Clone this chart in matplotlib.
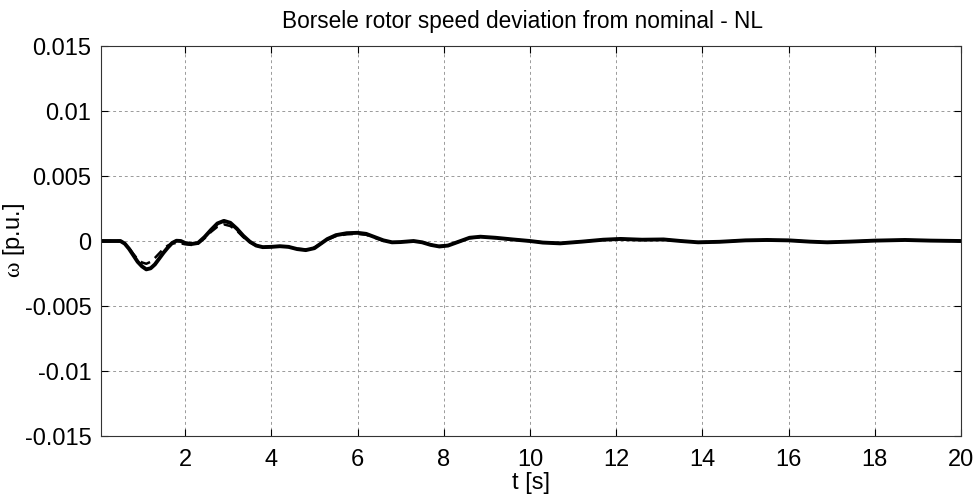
import numpy as np
import matplotlib
matplotlib.use("Agg")
import matplotlib.pyplot as plt

# time [s] and rotor speed deviation [1e-3 p.u.]
t_solid = [0.05, 0.3, 0.5, 0.6, 0.7, 0.8, 0.9, 1.0, 1.1, 1.2, 1.3, 1.4, 1.5, 1.6, 1.7,
           1.8, 1.9, 2.0, 2.15, 2.3, 2.45, 2.6, 2.75, 2.9, 3.05, 3.2, 3.35, 3.5, 3.65,
           3.8, 4.0, 4.2, 4.4, 4.6, 4.8, 5.0, 5.15, 5.3, 5.5, 5.75, 6.0, 6.2, 6.4, 6.6,
           6.8, 7.0, 7.3, 7.5, 7.7, 7.9, 8.1, 8.35, 8.6, 8.85, 9.2, 9.6, 10.0, 10.3,
           10.7, 11.2, 11.7, 12.1, 12.6, 13.1, 13.5, 13.9, 14.4, 15.0, 15.5, 16.0,
           16.5, 16.9, 17.4, 18.0, 18.7, 19.3, 20.0]
w_solid = [0, 0, 0, -0.2, -0.6, -1.1, -1.6, -1.95, -2.18, -2.1, -1.8, -1.35, -0.9, -0.5,
           -0.15, 0.02, 0.0, -0.15, -0.23, -0.15, 0.3, 0.85, 1.35, 1.55, 1.4, 0.95, 0.4,
           -0.05, -0.35, -0.47, -0.45, -0.4, -0.45, -0.62, -0.7, -0.55, -0.2, 0.15, 0.45,
           0.6, 0.63, 0.55, 0.3, 0.05, -0.1, -0.08, 0.0, -0.1, -0.3, -0.42, -0.35, -0.05,
           0.25, 0.33, 0.25, 0.12, 0.0, -0.12, -0.18, -0.05, 0.1, 0.16, 0.1, 0.12, 0.0,
           -0.1, -0.06, 0.05, 0.08, 0.05, -0.05, -0.1, -0.05, 0.03, 0.08, 0.03, 0.0]

t_dash = [0.05, 0.5, 0.6, 0.7, 0.8, 0.9, 1.0, 1.1, 1.2, 1.3, 1.4, 1.5, 1.6, 1.7, 1.8,
          1.9, 2.0, 2.15, 2.3, 2.45, 2.6, 2.75, 2.9, 3.05, 3.2, 3.35, 3.5, 3.65, 3.8,
          4.0, 4.2, 4.4, 4.6, 4.8, 5.0, 5.15, 5.3, 5.5, 5.75, 6.0, 6.2, 6.4, 6.6, 6.8,
          7.0, 7.3, 7.5, 7.7, 7.9, 8.1, 8.35, 8.6, 8.85, 9.2, 9.6, 10.0, 10.3, 10.7,
          11.2, 11.7, 12.1, 12.6, 13.1, 13.5, 13.9, 14.4, 15.0, 15.5, 16.0, 16.5,
          16.9, 17.4, 18.0, 18.7, 19.3, 20.0]
w_dash = [0, 0, -0.2, -0.55, -1.0, -1.4, -1.65, -1.75, -1.6, -1.3, -0.95, -0.6, -0.35,
          -0.2, -0.15, -0.18, -0.25, -0.3, -0.2, 0.2, 0.7, 1.1, 1.28, 1.15, 0.8, 0.3,
          -0.1, -0.35, -0.47, -0.45, -0.42, -0.45, -0.6, -0.65, -0.5, -0.2, 0.1, 0.38,
          0.52, 0.55, 0.48, 0.25, 0.02, -0.1, -0.1, -0.02, -0.1, -0.28, -0.38, -0.32,
          -0.05, 0.22, 0.3, 0.24, 0.11, 0.0, -0.11, -0.17, -0.05, 0.09, 0.15, 0.1, 0.11,
          0.0, -0.09, -0.06, 0.05, 0.07, 0.05, -0.05, -0.09, -0.05, 0.03, 0.07, 0.03, 0.0]

y_ticks = [-0.015, -0.01, -0.005, 0, 0.005, 0.01, 0.015]
y_labels = ['-0.015', '-0.01', '-0.005', '0', '0.005', '0.01', '0.015']
x_ticks = [2, 4, 6, 8, 10, 12, 14, 16, 18, 20]

plt.rcParams['font.family'] = ['Liberation Sans', 'DejaVu Sans']
plt.rcParams['mathtext.fontset'] = 'custom'
plt.rcParams['mathtext.it'] = 'Liberation Serif'
plt.rcParams['mathtext.rm'] = 'Liberation Serif'

fs = 17

fig = plt.figure(figsize=(9.79, 5.04), dpi=100)
ax = fig.add_axes([0.1032, 0.1349, 0.8784, 0.7738])

ax.plot(t_solid, np.array(w_solid) * 1e-3, color='black', lw=2.8, solid_joinstyle='round')
ax.plot(t_dash, np.array(w_dash) * 1e-3, color='black', lw=1.8, linestyle=(0, (4, 2.5)))

ax.set_xlim(0.05, 20)
ax.set_ylim(-0.015, 0.015)
ax.set_xticks(x_ticks)
ax.set_xticklabels([str(v) for v in x_ticks])
ax.set_yticks(y_ticks)
ax.set_yticklabels(y_labels)

ax.grid(True, color='#9a9a9a', linestyle=(0, (3, 3)), lw=0.7)
ax.tick_params(direction='in', top=True, right=True, length=5, width=0.8,
               labelsize=fs, colors='black')
ax.tick_params(axis='x', pad=9)
ax.tick_params(axis='y', pad=7)
for s in ax.spines.values():
    s.set_linewidth(0.8)
    s.set_color('#333333')

ax.set_title('Borsele rotor speed deviation from nominal - NL', fontsize=16.3, pad=13, x=0.49)
ax.set_xlabel('t [s]', fontsize=fs, labelpad=1)
ax.set_ylabel(r'$\omega$ [p.u.]', fontsize=fs)
ax.yaxis.set_label_coords(-0.086, 0.5)

fig.savefig('out.png', dpi=100)
